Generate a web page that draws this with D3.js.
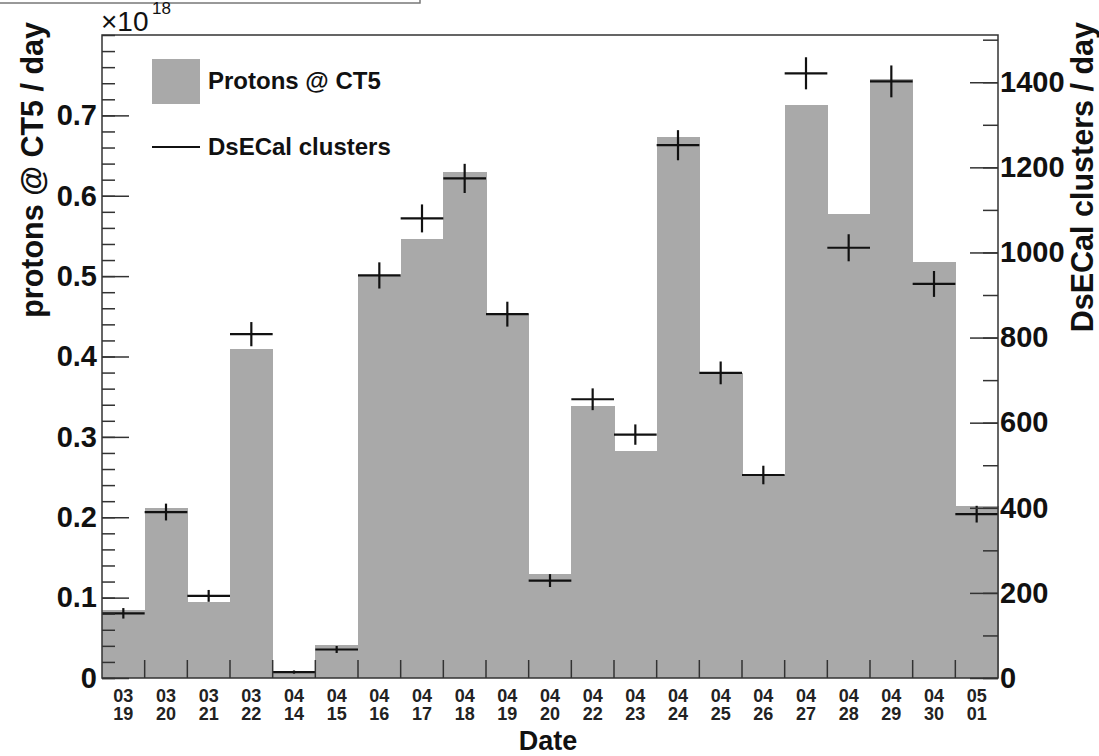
<!DOCTYPE html>
<html>
<head>
<meta charset="utf-8">
<script src="https://cdn.jsdelivr.net/npm/d3@7"></script>
<style>
  body { margin: 0; background: #fff; }
  text { font-family: "Liberation Sans", Arial, Helvetica, sans-serif; }
</style>
</head>
<body>
<div id="chart"></div>
<script>
// dates (month / day)
const months = ["03","03","03","03","04","04","04","04","04","04","04","04","04","04","04","04","04","04","04","04","05"];
const days   = ["19","20","21","22","14","15","16","17","18","19","20","22","23","24","25","26","27","28","29","30","01"];
// protons @ CT5 per day, units of 1e18
const protons = [0.084, 0.212, 0.095, 0.409, 0.009, 0.041, 0.500, 0.546, 0.630, 0.453, 0.130,
                 0.338, 0.282, 0.673, 0.380, 0.253, 0.713, 0.577, 0.745, 0.517, 0.214];
// DsECal clusters per day
const clusters = [152, 390, 193, 808, 14, 67, 946, 1080, 1174, 855, 229,
                  655, 572, 1252, 717, 477, 1421, 1011, 1402, 926, 385];
const leftTicks = [0, 0.1, 0.2, 0.3, 0.4, 0.5, 0.6, 0.7];
const rightTicks = [0, 200, 400, 600, 800, 1000, 1200, 1400];

const W = 1099, H = 756;
const m = { left: 102, right: 998, top: 35, bottom: 678 };

const svg = d3.select("#chart").append("svg")
  .attr("width", W).attr("height", H);

// cut-off title box at the top
svg.append("rect")
  .attr("x", -5).attr("y", -10).attr("width", 425).attr("height", 13)
  .attr("fill", "#fff").attr("stroke", "#777").attr("stroke-width", 1.5);

const keys = d3.range(months.length);
const x = d3.scaleBand().domain(keys).range([m.left, m.right]).padding(0);
const y = d3.scaleLinear().domain([0, 0.8]).range([m.bottom, m.top]);
const y2 = d3.scaleLinear().domain([0, 1511]).range([m.bottom, m.top]);

// histogram bars
svg.append("g").attr("shape-rendering", "crispEdges").selectAll("rect")
  .data(keys)
  .enter().append("rect")
  .attr("x", i => x(i))
  .attr("y", i => y(protons[i]))
  .attr("width", x.bandwidth() + 0.6)
  .attr("height", i => y(0) - y(protons[i]))
  .attr("fill", "#a9a9a9");

// cluster points with error bars
const pts = svg.append("g").attr("stroke", "#111").attr("stroke-width", 2.2);
keys.forEach(i => {
  const n = clusters[i], e = Math.sqrt(n);
  pts.append("line")
    .attr("x1", x(i)).attr("x2", x(i) + x.bandwidth())
    .attr("y1", y2(n)).attr("y2", y2(n));
  pts.append("line")
    .attr("x1", x(i) + x.bandwidth() / 2).attr("x2", x(i) + x.bandwidth() / 2)
    .attr("y1", y2(n - e)).attr("y2", y2(n + e));
});

// left axis (ticks pointing inwards)
const leftMinor = svg.append("g").attr("transform", `translate(${m.left},0)`)
  .call(d3.axisLeft(y).tickValues(d3.range(0, 0.801, 0.02)).tickSize(-13).tickFormat(""));
const leftMajor = svg.append("g").attr("transform", `translate(${m.left},0)`)
  .call(d3.axisLeft(y).tickValues(leftTicks).tickSize(-27).tickPadding(5)
    .tickFormat(d => d === 0 ? "0" : d.toFixed(1)));

// right axis
const rightMinor = svg.append("g").attr("transform", `translate(${m.right},0)`)
  .call(d3.axisRight(y2).tickValues(d3.range(0, 1511, 100)).tickSize(-15).tickFormat(""));
const rightMajor = svg.append("g").attr("transform", `translate(${m.right},0)`)
  .call(d3.axisRight(y2).tickValues(rightTicks).tickSize(-28).tickPadding(2)
    .tickFormat(d3.format("d")));

[leftMinor, leftMajor, rightMinor, rightMajor].forEach(g => {
  g.select(".domain").remove();
  g.selectAll(".tick line").attr("stroke", "#333").attr("stroke-width", 1.5);
  g.selectAll("text").attr("font-size", 29).attr("font-weight", "bold").attr("fill", "#111");
});

// bottom ticks at bin edges
svg.append("g").selectAll("line")
  .data(d3.range(1, months.length))
  .enter().append("line")
  .attr("x1", i => x(i)).attr("x2", i => x(i))
  .attr("y1", m.bottom).attr("y2", m.bottom - 18)
  .attr("stroke", "#333").attr("stroke-width", 1.5);

// frame
svg.append("rect")
  .attr("x", m.left).attr("y", m.top)
  .attr("width", m.right - m.left).attr("height", m.bottom - m.top)
  .attr("fill", "none").attr("stroke", "#333").attr("stroke-width", 1.5);

// date labels
const dl = svg.append("g").attr("font-size", 18).attr("font-weight", "bold")
  .attr("fill", "#222").attr("text-anchor", "middle");
keys.forEach(i => {
  const cx = x(i) + x.bandwidth() / 2;
  const t = dl.append("text").attr("x", cx);
  t.append("tspan").attr("x", cx).attr("y", 702).text(months[i]);
  t.append("tspan").attr("x", cx).attr("y", 720).text(days[i]);
});

// axis titles
svg.append("text")
  .attr("x", (m.left + m.right) / 2 - 2).attr("y", 750)
  .attr("text-anchor", "middle").attr("font-size", 27).attr("font-weight", "bold")
  .attr("fill", "#111").text("Date");

svg.append("text")
  .attr("transform", "translate(43,22) rotate(-90)")
  .attr("text-anchor", "end").attr("font-size", 30.5).attr("font-weight", "bold")
  .attr("fill", "#111").text("protons @ CT5 / day");

svg.append("text")
  .attr("transform", "translate(1093,22) rotate(-90)")
  .attr("text-anchor", "end").attr("font-size", 30.5).attr("font-weight", "bold")
  .attr("fill", "#111").text("DsECal clusters / day");

// exponent label
svg.append("text").attr("x", 101).attr("y", 31)
  .attr("font-size", 28).attr("fill", "#111").text("×10");
svg.append("text").attr("x", 152).attr("y", 14)
  .attr("font-size", 17).attr("fill", "#111").text("18");

// legend
const lg = svg.append("g").attr("font-size", 24).attr("font-weight", "bold").attr("fill", "#111");
lg.append("rect").attr("x", 152).attr("y", 59).attr("width", 48).attr("height", 45)
  .attr("fill", "#a9a9a9");
lg.append("text").attr("x", 208).attr("y", 81).attr("dy", "0.35em").text("Protons @ CT5");
lg.append("line").attr("x1", 152).attr("x2", 200).attr("y1", 147).attr("y2", 147)
  .attr("stroke", "#111").attr("stroke-width", 2.2);
lg.append("text").attr("x", 208).attr("y", 147).attr("dy", "0.35em").text("DsECal clusters");
</script>
</body>
</html>
